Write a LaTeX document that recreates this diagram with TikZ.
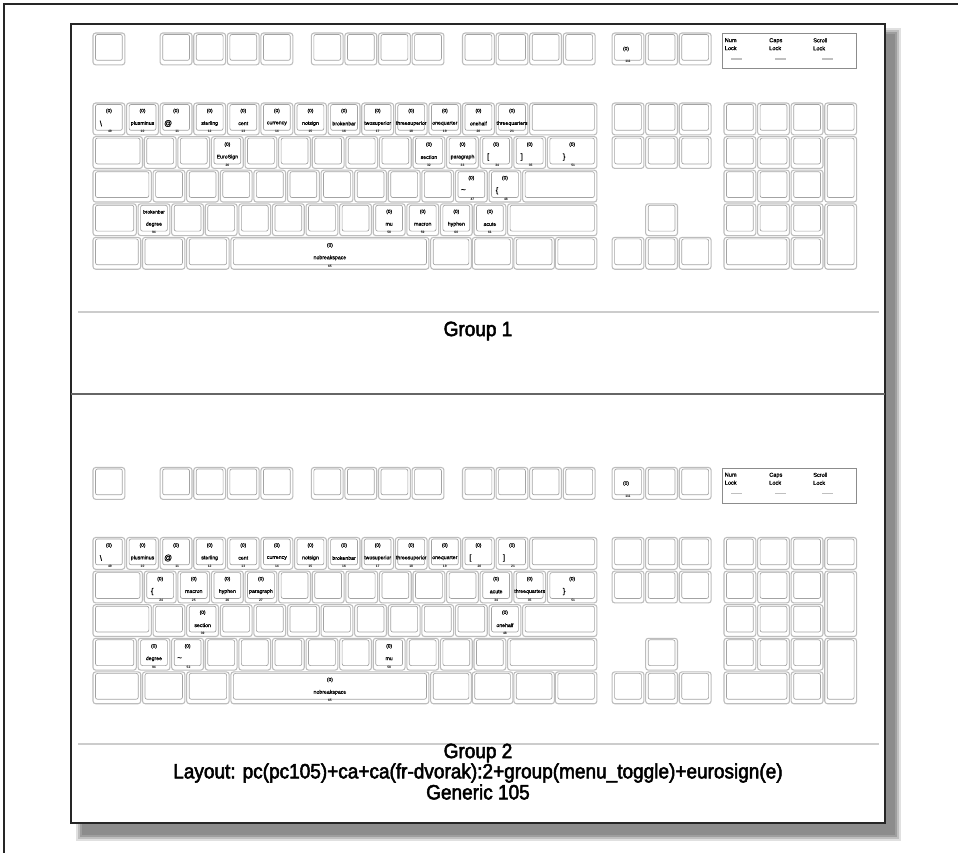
\documentclass[tikz,border=0pt]{standalone}
\usepackage{fontspec}
\setmainfont{Liberation Sans}
\newfontfamily\titlefont[FakeStretch=0.92, FakeBold=2.5]{Liberation Sans}
\newfontfamily\labfont[FakeBold=1]{Liberation Sans}
\usetikzlibrary{calc}
\definecolor{keyo}{gray}{0.74}
\definecolor{keyi}{gray}{0.64}
\tikzset{
  keyout/.style={draw=keyo, line width=0.8pt, rounded corners=2pt, inner sep=0pt, outer sep=0pt, fill=white},
  keyin/.style={draw=keyi, line width=0.5pt, rounded corners=1.5pt},
  ktop/.style={font=\labfont\fontsize{3.6}{4}\selectfont, inner sep=0pt},
  kname/.style={font=\labfont\fontsize{3.9}{4}\selectfont, inner sep=0pt},
  ksym/.style={font=\labfont\fontsize{5.8}{6}\selectfont, inner sep=0pt},
  kcode/.style={font=\fontsize{2.5}{3}\selectfont\bfseries, inner sep=0pt},
  ledbox/.style={draw=black!45, line width=0.6pt, inner sep=0pt},
  ledtext/.style={font=\labfont\fontsize{4.2}{6}\selectfont, align=left, inner sep=0pt, anchor=north west},
  ledmark/.style={draw=black!25, line width=1.2pt},
  title/.style={font=\titlefont\fontsize{15.5}{17}\selectfont, inner sep=0pt},
  sepline/.style={draw=black!20, line width=1.2pt},
  divider/.style={draw=black!60, line width=1.5pt},
  frame/.style={draw=black!85, line width=1pt, fill=white},
}
% key: name, x (mm), y (px, before offset), w (mm), h (mm)
\newcommand\kkey[5]{%
  \pgfmathsetmacro\kx{93+(#2)*1.768}%
  \pgfmathsetmacro\ky{(#3)+\yo}%
  \pgfmathsetmacro\kw{(#4)*1.768*0.75}%
  \pgfmathsetmacro\kh{(#5)*1.768*0.75}%
  \node[keyout, minimum width=\kw pt, minimum height=\kh pt, anchor=north west] (#1) at (\kx,\ky) {};%
  \draw[keyin] ($(#1.north west)+(2.5,1.5)$) rectangle ($(#1.south east)+(-2.5,-4.5)$);%
}
\newcommand\kbd[2]{%
  \def\yo{#2}%
  \kkey{#1esc}{0}{33}{18}{18}%
  \foreach \i in {1,...,4}{\kkey{#1f\i}{38+(\i-1)*19}{33}{18}{18}}%
  \foreach \i in {5,...,8}{\kkey{#1f\i}{123.5+(\i-5)*19}{33}{18}{18}}%
  \foreach \i in {9,...,12}{\kkey{#1f\i}{209+(\i-9)*19}{33}{18}{18}}%
  \foreach \i in {1,2,3}{\kkey{#1ps\i}{293.6+(\i-1)*19}{33}{18}{18}}%
  \pgfmathsetmacro\ly{33+\yo}%
  \node[ledbox, anchor=north west, minimum width=100.5pt, minimum height=26.25pt] (#1led) at (722,\ly) {};%
  \node[ledtext] (#1ledn) at ($(#1led.north west)+(2.5,5)$) {Num\\Lock};%
  \node[ledtext] (#1ledc) at ($(#1led.north west)+(47,5)$) {Caps\\Lock};%
  \node[ledtext] (#1leds) at ($(#1led.north west)+(91,5)$) {Scroll\\Lock};%
  \draw[ledmark] ($(#1led.north west)+(9,26)$) -- ++(11,0);%
  \draw[ledmark] ($(#1led.north west)+(53,26)$) -- ++(11,0);%
  \draw[ledmark] ($(#1led.north west)+(100,26)$) -- ++(11,0);%
  \foreach \i in {0,...,12}{\kkey{#1r1k\i}{\i*19}{103}{18}{18}}%
  \kkey{#1bksp}{247}{103}{38}{18}%
  \kkey{#1tab}{0}{136.6}{28}{18}%
  \foreach \i in {1,...,12}{\kkey{#1r2k\i}{29+(\i-1)*19}{136.6}{18}{18}}%
  \kkey{#1bksl}{257}{136.6}{28}{18}%
  \kkey{#1caps}{0}{170.2}{33}{18}%
  \foreach \i in {1,...,11}{\kkey{#1r3k\i}{34+(\i-1)*19}{170.2}{18}{18}}%
  \kkey{#1rtrn}{243}{170.2}{42}{18}%
  \kkey{#1lfsh}{0}{203.8}{24.5}{18}%
  \kkey{#1lsgt}{25.5}{203.8}{18}{18}%
  \foreach \i in {1,...,10}{\kkey{#1r4k\i}{44.5+(\i-1)*19}{203.8}{18}{18}}%
  \kkey{#1rtsh}{234.5}{203.8}{50.5}{18}%
  \kkey{#1lctl}{0}{237.4}{27}{18}%
  \kkey{#1lwin}{28}{237.4}{24}{18}%
  \kkey{#1lalt}{53}{237.4}{24}{18}%
  \kkey{#1spce}{78}{237.4}{112}{18}%
  \kkey{#1ralt}{191}{237.4}{23}{18}%
  \kkey{#1rwin}{214.5}{237.4}{23}{18}%
  \kkey{#1menu}{238}{237.4}{23}{18}%
  \kkey{#1rctl}{261.5}{237.4}{23.5}{18}%
  \foreach \i in {1,2,3}{%
    \kkey{#1ins\i}{293.6+(\i-1)*19}{103}{18}{18}%
    \kkey{#1del\i}{293.6+(\i-1)*19}{136.6}{18}{18}%
    \kkey{#1arw\i}{293.6+(\i-1)*19}{237.4}{18}{18}}%
  \kkey{#1up}{312.6}{203.8}{18}{18}%
  \foreach \i in {1,...,4}{\kkey{#1kpa\i}{356.9+(\i-1)*19}{103}{18}{18}}%
  \foreach \i in {1,2,3}{%
    \kkey{#1kpb\i}{356.9+(\i-1)*19}{136.6}{18}{18}%
    \kkey{#1kpc\i}{356.9+(\i-1)*19}{170.2}{18}{18}%
    \kkey{#1kpd\i}{356.9+(\i-1)*19}{203.8}{18}{18}}%
  \kkey{#1kpad}{413.9}{136.6}{18}{37}%
  \kkey{#1kpen}{413.9}{203.8}{18}{37}%
  \kkey{#1kpz}{356.9}{237.4}{37}{18}%
  \kkey{#1kpdl}{394.9}{237.4}{18}{18}%
  \node[ktop] (#1pst) at ($(#1ps1.north)+(-2,16)$) {(0)};%
  \node[kcode] (#1psc) at ($(#1ps1.south)+(0,-3)$) {111};%
}
\newcommand\kn[4]{%
  \node[ktop] (#1t) at ($(#1.north)+(0,8)$) {#2};%
  \node[kname] (#1n) at ($(#1.north)+(0,20.5)$) {#3};%
  \node[kcode] (#1c) at ($(#1.south)+(0,-3)$) {#4};}
\newcommand\ks[3]{%
  \node[ktop] (#1t) at ($(#1.north)+(0,8)$) {(0)};%
  \node[ksym] (#1n) at ($(#1.north)+(-8,20.5)$) {#2};%
  \node[kcode] (#1c) at ($(#1.south)+(1,-3)$) {#3};}
\begin{document}
\begin{tikzpicture}[x=0.75pt, y=-0.75pt]
\useasboundingbox (0,0) rectangle (958,853);
\fill[white] (0,0) rectangle (958,853);
\draw[black!85, line width=1.1pt] (4,853) -- (4,4) -- (958,4);
% shadow
\fill[black!12] (76,28) rectangle (901,841);
\fill[black!25] (78,30) rectangle (899,839);
\fill[black!38] (80,32) rectangle (897,837);
\fill[black!45] (82,34) rectangle (895,835);
\draw[frame] (71,24) rectangle (885,823);
\draw[divider] (71,394) -- (885,394);
\draw[sepline] (78,312) -- (879,312);
\draw[sepline] (78,744) -- (879,744);
% keyboards
\kbd{a}{0}
\kbd{b}{434.5}
% group 1 labels
\ks{ar1k0}{\textbackslash}{49}
\kn{ar1k1}{(0)}{plusminus}{10}
\ks{ar1k2}{@}{11}
\kn{ar1k3}{(0)}{sterling}{12}
\kn{ar1k4}{(0)}{cent}{13}
\kn{ar1k5}{(0)}{currency}{14}
\kn{ar1k6}{(0)}{notsign}{15}
\kn{ar1k7}{(0)}{brokenbar}{16}
\kn{ar1k8}{(0)}{twosuperior}{17}
\kn{ar1k9}{(0)}{threesuperior}{18}
\kn{ar1k10}{(0)}{onequarter}{19}
\kn{ar1k11}{(0)}{onehalf}{20}
\kn{ar1k12}{(0)}{threequarters}{21}
\kn{ar2k3}{(0)}{EuroSign}{26}
\kn{ar2k9}{(0)}{section}{32}
\kn{ar2k10}{(0)}{paragraph}{33}
\ks{ar2k11}{[}{34}
\ks{ar2k12}{]}{35}
\ks{abksl}{\}}{51}
\ks{ar3k10}{\textasciitilde}{47}
\ks{ar3k11}{\{}{48}
\kn{alsgt}{brokenbar}{degree}{94}
\kn{ar4k7}{(0)}{mu}{58}
\kn{ar4k8}{(0)}{macron}{59}
\kn{ar4k9}{(0)}{hyphen}{60}
\kn{ar4k10}{(0)}{acute}{61}
\kn{aspce}{(0)}{nobreakspace}{65}
% group 2 labels
\ks{br1k0}{\textbackslash}{49}
\kn{br1k1}{(0)}{plusminus}{10}
\ks{br1k2}{@}{11}
\kn{br1k3}{(0)}{sterling}{12}
\kn{br1k4}{(0)}{cent}{13}
\kn{br1k5}{(0)}{currency}{14}
\kn{br1k6}{(0)}{notsign}{15}
\kn{br1k7}{(0)}{brokenbar}{16}
\kn{br1k8}{(0)}{twosuperior}{17}
\kn{br1k9}{(0)}{threesuperior}{18}
\kn{br1k10}{(0)}{onequarter}{19}
\ks{br1k11}{[}{20}
\ks{br1k12}{]}{21}
\ks{br2k1}{\{}{24}
\kn{br2k2}{(0)}{macron}{25}
\kn{br2k3}{(0)}{hyphen}{26}
\kn{br2k4}{(0)}{paragraph}{27}
\kn{br2k11}{(0)}{acute}{34}
\kn{br2k12}{(0)}{threequarters}{35}
\ks{bbksl}{\}}{51}
\kn{br3k2}{(0)}{section}{39}
\kn{br3k11}{(0)}{onehalf}{48}
\kn{blsgt}{(0)}{degree}{94}
\ks{br4k1}{\textasciitilde}{52}
\kn{br4k7}{(0)}{mu}{58}
\kn{bspce}{(0)}{nobreakspace}{65}
% titles
\node[title] (g1) at (478,331) {Group 1};
\node[title] (g2) at (478,753) {Group 2};
\node[title] (lay) at (478,773) {Layout: pc(pc105)+ca+ca(fr-dvorak):2+group(menu\_toggle)+eurosign(e)};
\node[title] (gen) at (478,792) {Generic 105};
\end{tikzpicture}
\end{document}
